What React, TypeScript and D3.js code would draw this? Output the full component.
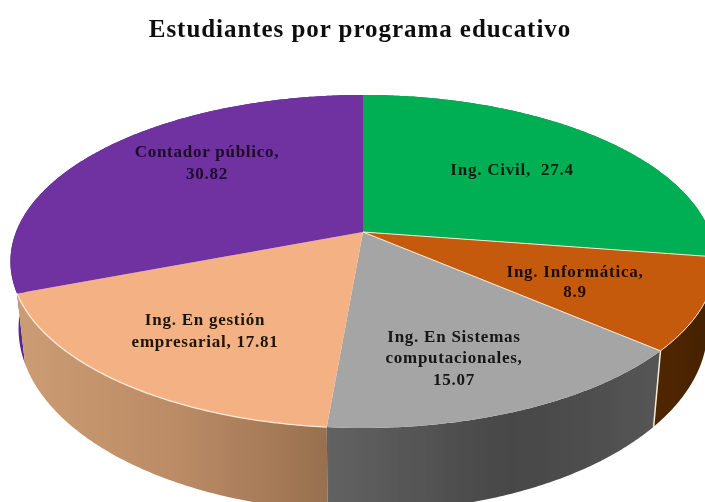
import React from "react";
import * as d3 from "d3";

const titleText = "Estudiantes por programa educativo";
const categories = ["Ing. Civil", "Ing. Informática", "Ing. En Sistemas computacionales", "Ing. En gestión empresarial", "Contador público"];
const values = [27.4, 8.9, 15.07, 17.81, 30.82];
const labelLines = [
  ["Ing. Civil,  27.4"],
  ["Ing. Informática,", "8.9"],
  ["Ing. En Sistemas", "computacionales,", "15.07"],
  ["Ing. En gestión", "empresarial, 17.81"],
  ["Contador público,", "30.82"],
];
const topColors = ["#00ae52", "#c55a11", "#a5a5a5", "#f4b183", "#7030a0"];
const wallStart = ["#007a3a", "#4f2700", "#626262", "#cc9c74", "#5a2690"];
const wallMid = ["#007a3a", "#4a2400", "#474747", "#b98a64", "#5a2690"];
const wallEnd = ["#007a3a", "#3f1e00", "#555555", "#98704f", "#5a2690"];
const labelColors = ["#0c1f12", "#1c0d02", "#141414", "#1c120a", "#1c0a2c"];

const W = 705, H = 502;
const apexX = 363, apexY = 232;
const A = 347, B = 161.3, K = 0.177;
const depth = 64, lowerScaleX = 0.977, lowerScaleY = 1.1;
const labelCenters: [number, number][] = [[512, 170], [575, 282], [454, 358], [205, 331], [207, 163]];
const lineStep = [0, 20, 21.5, 22, 22];

const project = (t: number, lower = false): [number, number] => {
  const u = Math.sin(t), v = Math.cos(t);
  const d = 1 + K * v;
  const sx = lower ? lowerScaleX : 1;
  const sy = lower ? lowerScaleY : 1;
  return [apexX + sx * A * u / d, apexY + (lower ? depth : 0) - sy * B * v / d];
};

const pie = d3.pie<number>().sort(null).startAngle(0).endAngle(2 * Math.PI);
const arcs = pie(values);
const line = d3.line();
const arcPts = (a: number, b: number, lower = false) => {
  const n = Math.max(2, Math.ceil((b - a) / 0.01));
  return d3.range(n + 1).map(i => project(a + (b - a) * i / n, lower));
};

const wallOrder = [0, 4, 1, 3, 2];
const lightStroke = "#f8ead8";

export default function App() {
  const radial = (t: number) => line([[apexX, apexY], project(t)]) as string;
  const seam = project(arcs[1].endAngle);
  const seamLow = project(arcs[1].endAngle, true);
  return (
    <svg width={W} height={H} viewBox={`0 0 ${W} ${H}`} style={{ position: "absolute", left: 0, top: 0, background: "#fff" }}>
      <defs>
        {categories.map((_, i) => (
          <linearGradient key={i} id={`wall${i}`} x1="0" x2="1" y1="0" y2="0">
            <stop offset="0" stopColor={wallStart[i]} />
            <stop offset="0.55" stopColor={wallMid[i]} />
            <stop offset="1" stopColor={wallEnd[i]} />
          </linearGradient>
        ))}
        <filter id="soft" x="-5%" y="-5%" width="110%" height="110%">
          <feGaussianBlur stdDeviation="0.45" />
        </filter>
      </defs>
      <g filter="url(#soft)">
        {wallOrder.map(i => {
          const a = arcs[i];
          const pts = [...arcPts(a.startAngle, a.endAngle), ...arcPts(a.startAngle, a.endAngle, true).reverse()];
          return <path key={i} d={line(pts) + "Z"} fill={`url(#wall${i})`} />;
        })}
        <line x1={seam[0]} y1={seam[1]} x2={seamLow[0]} y2={seamLow[1]} stroke={lightStroke} strokeWidth={1.5} />
        {arcs.map((a, i) => {
          const pts: [number, number][] = [[apexX, apexY], ...arcPts(a.startAngle, a.endAngle)];
          return <path key={i} d={line(pts) + "Z"} fill={topColors[i]} />;
        })}
        <path d={line(arcPts(arcs[1].startAngle, arcs[1].endAngle)) as string} fill="none" stroke={lightStroke} strokeWidth={1} />
        <path d={line(arcPts(arcs[3].startAngle, arcs[3].endAngle)) as string} fill="none" stroke={lightStroke} strokeWidth={1.3} />
        <path d={radial(arcs[0].endAngle)} fill="none" stroke={lightStroke} strokeWidth={1} />
        <path d={radial(arcs[1].endAngle)} fill="none" stroke={lightStroke} strokeWidth={1} />
        <text x={360} y={37} textAnchor="middle" fontFamily="'Liberation Serif', serif" fontWeight="bold" fontSize={25} letterSpacing={0.95} fill="#111">{titleText}</text>
        {labelLines.map((lines, i) => (
          <text key={i} textAnchor="middle" fontFamily="'Liberation Serif', serif" fontWeight="bold" fontSize={17} letterSpacing={0.75} fill={labelColors[i]}>
            {lines.map((l, j) => (
              <tspan key={j} x={labelCenters[i][0]} y={labelCenters[i][1] + 5 + (j - (lines.length - 1) / 2) * lineStep[i]} style={{ whiteSpace: "pre" }}>{l}</tspan>
            ))}
          </text>
        ))}
      </g>
    </svg>
  );
}
